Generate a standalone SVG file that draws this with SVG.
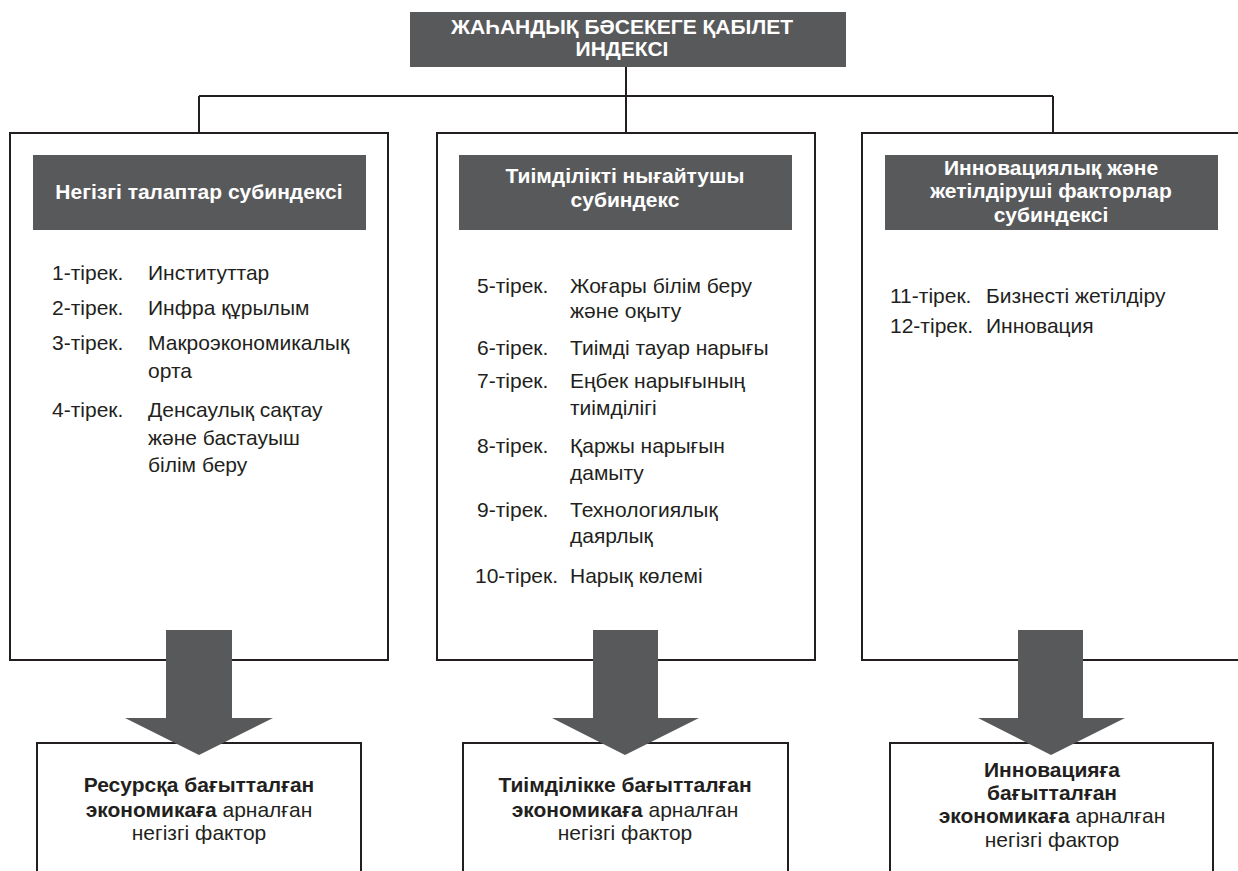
<svg xmlns="http://www.w3.org/2000/svg" width="1238" height="871" viewBox="0 0 1238 871">
  <style>
    .box { fill: #ffffff; stroke: #231f20; stroke-width: 2; }
    .hdr { fill: #58595b; }
    .wire { fill: none; stroke: #231f20; stroke-width: 2; }
    .arrow { fill: #58595b; }
    .htxt { font-family: "Liberation Sans", Arial, sans-serif; font-weight: bold; font-size: 21px; fill: #ffffff; text-anchor: middle; }
    .ttl { font-family: "Liberation Sans", Arial, sans-serif; font-weight: bold; font-size: 21px; fill: #ffffff; text-anchor: middle; }
    .item { font-family: "Liberation Sans", Arial, sans-serif; font-size: 21px; fill: #231f20; }
    .out { font-family: "Liberation Sans", Arial, sans-serif; font-size: 21px; fill: #231f20; text-anchor: middle; }
    .b { font-weight: bold; }
  </style>

  <!-- connectors from the index to the three sub-indices -->
  <g id="connectors">
    <path class="wire" d="M626 67 V133 M199 96 H1053 M199 96 V133 M1053 96 V133"/>
  </g>

  <!-- top index -->
  <g id="index">
    <rect class="hdr" x="410" y="12" width="436" height="55"/>
    <text class="ttl" x="622" y="34">ЖАҺАНДЫҚ БӘСЕКЕГЕ ҚАБІЛЕТ</text>
    <text class="ttl" x="622" y="56">ИНДЕКСІ</text>
  </g>

  <!-- sub-index 1 -->
  <g id="basic">
    <rect class="box" x="10" y="133" width="378" height="527"/>
    <rect class="hdr" x="33" y="155" width="333" height="75"/>
    <text class="htxt" x="199" y="199">Негізгі талаптар субиндексі</text>
    <g class="item">
      <text x="52" y="280">1-тірек.</text><text x="148" y="280">Институттар</text>
      <text x="52" y="315">2-тірек.</text><text x="148" y="315">Инфра құрылым</text>
      <text x="52" y="350">3-тірек.</text><text x="148" y="350">Макроэкономикалық</text>
      <text x="148" y="378">орта</text>
      <text x="52" y="417">4-тірек.</text><text x="148" y="417">Денсаулық сақтау</text>
      <text x="148" y="445">және бастауыш</text>
      <text x="148" y="472">білім беру</text>
    </g>
  </g>

  <!-- sub-index 2 -->
  <g id="efficiency">
    <rect class="box" x="437" y="133" width="378" height="527"/>
    <rect class="hdr" x="459" y="155" width="333" height="75"/>
    <text class="htxt" x="625" y="183">Тиімділікті нығайтушы</text>
    <text class="htxt" x="625" y="207">субиндекс</text>
    <g class="item">
      <text x="477" y="293">5-тірек.</text><text x="570" y="293">Жоғары білім беру</text>
      <text x="570" y="318">және оқыту</text>
      <text x="477" y="355">6-тірек.</text><text x="570" y="355">Тиімді тауар нарығы</text>
      <text x="477" y="388">7-тірек.</text><text x="570" y="388">Еңбек нарығының</text>
      <text x="570" y="415">тиімділігі</text>
      <text x="477" y="453">8-тірек.</text><text x="570" y="453">Қаржы нарығын</text>
      <text x="570" y="480">дамыту</text>
      <text x="477" y="517">9-тірек.</text><text x="570" y="517">Технологиялық</text>
      <text x="570" y="543">даярлық</text>
      <text x="475" y="583">10-тірек.</text><text x="570" y="583">Нарық көлемі</text>
    </g>
  </g>

  <!-- sub-index 3 -->
  <g id="innovation">
    <rect class="box" x="862" y="133" width="390" height="527"/>
    <rect class="hdr" x="885" y="155" width="333" height="75"/>
    <text class="htxt" x="1051" y="175">Инновациялық және</text>
    <text class="htxt" x="1051" y="198">жетілдіруші факторлар</text>
    <text class="htxt" x="1051" y="222">субиндексі</text>
    <g class="item">
      <text x="890" y="303">11-тірек.</text><text x="986" y="303">Бизнесті жетілдіру</text>
      <text x="890" y="333">12-тірек.</text><text x="986" y="333">Инновация</text>
    </g>
  </g>

  <!-- outcome boxes -->
  <g id="out-resource">
    <rect class="box" x="37" y="743" width="324" height="150"/>
    <text class="out" x="199" y="792"><tspan class="b">Ресурсқа бағытталған</tspan></text>
    <text class="out" x="199" y="817"><tspan class="b">экономикаға</tspan> арналған</text>
    <text class="out" x="199" y="840">негізгі фактор</text>
  </g>
  <g id="out-efficiency">
    <rect class="box" x="463" y="743" width="325" height="150"/>
    <text class="out" x="625" y="792"><tspan class="b">Тиімділікке бағытталған</tspan></text>
    <text class="out" x="625" y="817"><tspan class="b">экономикаға</tspan> арналған</text>
    <text class="out" x="625" y="840">негізгі фактор</text>
  </g>
  <g id="out-innovation">
    <rect class="box" x="890" y="743" width="323" height="150"/>
    <text class="out" x="1052" y="777"><tspan class="b">Инновацияға</tspan></text>
    <text class="out" x="1052" y="800"><tspan class="b">бағытталған</tspan></text>
    <text class="out" x="1052" y="823"><tspan class="b">экономикаға</tspan> арналған</text>
    <text class="out" x="1052" y="847">негізгі фактор</text>
  </g>

  <!-- block arrows -->
  <g id="arrows">
    <path class="arrow" d="M166 630 H232 V718 H273 L199 755 L125 718 H166 Z"/>
    <path class="arrow" d="M593 630 H658 V718 H699 L625 755 L552 718 H593 Z"/>
    <path class="arrow" d="M1018 630 H1083 V718 H1125 L1051 755 L978 718 H1018 Z"/>
  </g>
</svg>
